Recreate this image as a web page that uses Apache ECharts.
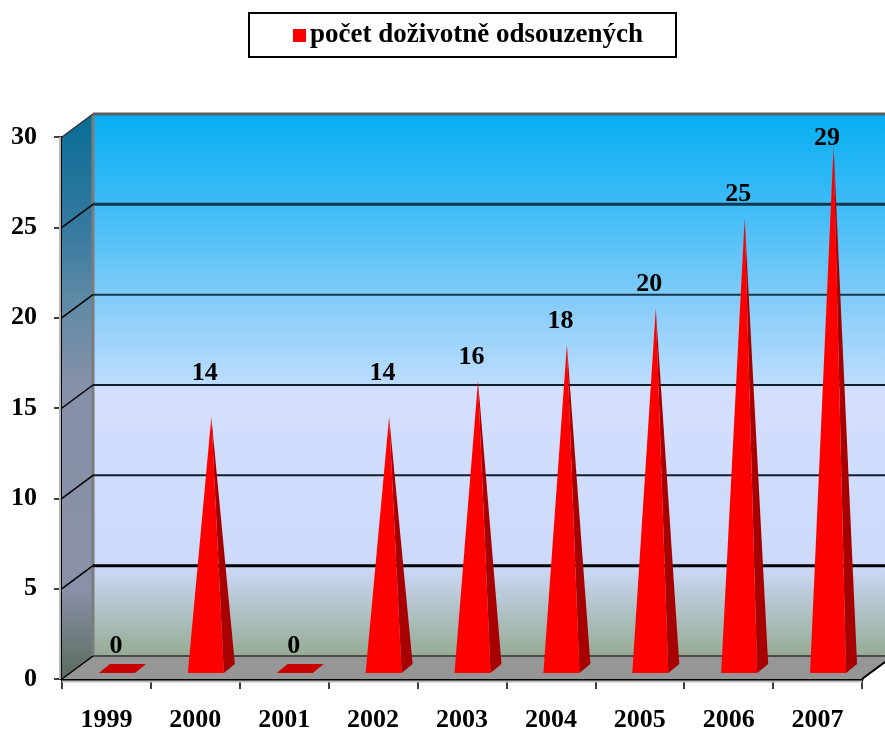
<!DOCTYPE html>
<html>
<head>
<meta charset="utf-8">
<style>html,body{margin:0;padding:0;background:#fff}#c{width:885px;height:729px}</style>
<script src="https://cdn.jsdelivr.net/npm/echarts@6/dist/echarts.min.js"></script>
</head>
<body>
<div id="c"></div>
<script>
const categories = ['1999','2000','2001','2002','2003','2004','2005','2006','2007'];
const convictions = [0,14,0,14,16,18,20,25,29];
const valueTicks = [0,5,10,15,20,25,30];
const seriesName = 'počet doživotně odsouzených';

const FONT = '"Liberation Serif","Times New Roman",serif';
const DX = 31, DY = -23;          // wall depth of the 3D box
const chart = echarts.init(document.getElementById('c'), null, {renderer:'canvas'});

function poly(points, fill, extra){
  return Object.assign({type:'polygon', shape:{points}, style:{fill}, silent:true}, extra||{});
}
function line(a, b, stroke, lineWidth, extra){
  return Object.assign({type:'line', shape:{x1:a[0],y1:a[1],x2:b[0],y2:b[1]},
    style:{stroke, lineWidth, fill:null}, silent:true}, extra||{});
}
function labelLift(v){ return v === 14 ? 53 : v === 29 ? 17 : 33; }

function renderBox(params, api){
  const band = api.size([1,0])[0];
  const n = categories.length;
  const p0 = api.coord([0, 0]);
  const pT = api.coord([0, 30]);
  const xL = p0[0]-band/2, xR = api.coord([n-1,0])[0]+band/2;
  const y0 = p0[1], yT = pT[1];
  return {type:'group', children:[
    // back wall
    poly([[xL+DX,yT+DY],[xR+DX,yT+DY],[xR+DX,y0+DY],[xL+DX,y0+DY]],
      new echarts.graphic.LinearGradient(0,0,0,1,[
        {offset:0,color:'#07aff2'},{offset:.167,color:'#3dbbf6'},{offset:.335,color:'#80cbf8'},
        {offset:.497,color:'#bcdcfd'},{offset:.507,color:'#d3dffd'},{offset:.833,color:'#ccd9f8'},{offset:1,color:'#96ab94'}])),
    // side wall
    poly([[xL,yT],[xL+DX,yT+DY],[xL+DX,y0+DY],[xL,y0]],
      new echarts.graphic.LinearGradient(0,0,0,1,[
        {offset:0,color:'#086d97'},{offset:.2,color:'#35799f'},{offset:.33,color:'#5f8aa5'},
        {offset:.48,color:'#8690a8'},{offset:.84,color:'#8a90a8'},{offset:1,color:'#5a6b5c'}])),
    // floor
    poly([[xL,y0],[xR,y0],[xR+DX,y0+DY],[xL+DX,y0+DY]], '#969696'),
    // edges
    line([xL+DX,yT+DY],[xL+DX,y0+DY],'#7c7c7c',3),
    line([xL+DX,yT+DY],[xR+DX,yT+DY],'#5a5f62',3),
    line([xL+DX,y0+DY],[xR+DX,y0+DY],'#4a4a4a',2),
    line([xL-2,yT],[xL-2,y0],'#b8b8b8',2),
    line([xL,y0+2.5],[xR,y0+2.5],'#bdbdbd',2),
    line([xR,y0],[xR+DX,y0+DY],'#000',2)
  ]};
}
function renderGrid(params, api){
  const v = api.value(0);
  const band = api.size([1,0])[0];
  const n = categories.length;
  const p = api.coord([0, v]);
  const xL = p[0]-band/2, xR = api.coord([n-1,0])[0]+band/2, y = p[1];
  const kids = [line([xL,y],[xL+DX,y+DY], v===30?'#333':'#000', 1.5)];
  if (v>0 && v<30) kids.push(line([xL+DX,y+DY],[xR+DX,y+DY],
      v===5?'#000':v>=20?'#12384e':'rgba(5,20,35,.95)', v===5?3:v===25?3:2));
  return {type:'group', children:kids};
}
function renderPyramid(params, api){
  const i = api.value(0), v = api.value(1);
  const c = api.coord([i, 0]), top = api.coord([i, v]);
  const hw = 18;
  const fx = c[0]+10.5, fy = c[1]-6;
  const bx = c[0]+21.5, by = c[1]-15;
  const ax = c[0]+16, ay = top[1]-9;
  const kids = [];
  if (v === 0) {
    kids.push(poly([[fx-hw,fy],[fx+hw,fy],[bx+hw,by],[bx-hw,by]], '#c80000'));
  } else {
    kids.push(poly([[fx+hw,fy],[bx+hw,by],[ax,ay]], '#a80000'));
    kids.push(poly([[fx-hw,fy],[fx+hw,fy],[ax,ay]], '#ff0000'));
  }
  kids.push({type:'text', silent:true, x:c[0]+9.5, y:top[1]-labelLift(v),
    style:{text:String(v), font:'bold 26px '+FONT, fill:'#000', textAlign:'center', textVerticalAlign:'middle'}});
  return {type:'group', children:kids};
}

chart.setOption({
  animation:false,
  backgroundColor:'#fff',
  grid:{left:62, right:23, top:137, bottom:50, containLabel:false, outerBoundsMode:'none'},
  legend:{
    left:249, top:13, itemWidth:13, itemHeight:13, itemGap:0,
    padding:[9,33,8,44], borderColor:'#000', borderWidth:2, icon:'rect',
    data:[{name:seriesName, itemStyle:{color:'#ff0000'}}],
    textStyle:{color:'#000', fontFamily:FONT, fontWeight:'bold', fontSize:27, padding:[0,0,0,-1]}
  },
  xAxis:{type:'category', data:categories, boundaryGap:true,
    axisLine:{show:true, onZero:false, lineStyle:{color:'#000', width:3}},
    axisTick:{show:true, alignWithLabel:false, length:10, lineStyle:{color:'#000', width:1.5}},
    axisLabel:{color:'#000', fontFamily:FONT, fontWeight:'bold', fontSize:26, margin:28, interval:0},
    splitLine:{show:false}},
  yAxis:{type:'value', min:0, max:30, interval:5,
    axisLine:{show:true, lineStyle:{color:'#000', width:2}},
    axisTick:{show:true, length:8, lineStyle:{color:'#000', width:1.5}},
    axisLabel:{color:'#000', fontFamily:FONT, fontWeight:'bold', fontSize:26, margin:25, padding:[2,0,0,0]},
    splitLine:{show:false}},
  series:[
    {type:'custom', name:'box', coordinateSystem:'cartesian2d', clip:false, z:1, silent:true,
      renderItem:renderBox, data:[[0]], encode:{x:0}, legendHoverLink:false},
    {type:'custom', name:'grid', coordinateSystem:'cartesian2d', clip:false, z:2, silent:true,
      renderItem:renderGrid, data:valueTicks.map(v=>[v]), encode:{y:0}},
    {type:'custom', name:seriesName, coordinateSystem:'cartesian2d', clip:false, z:3,
      itemStyle:{color:'#ff0000'}, renderItem:renderPyramid,
      data:convictions.map((v,i)=>[i,v]), encode:{x:0,y:1}}
  ]
});
</script>
</body>
</html>
